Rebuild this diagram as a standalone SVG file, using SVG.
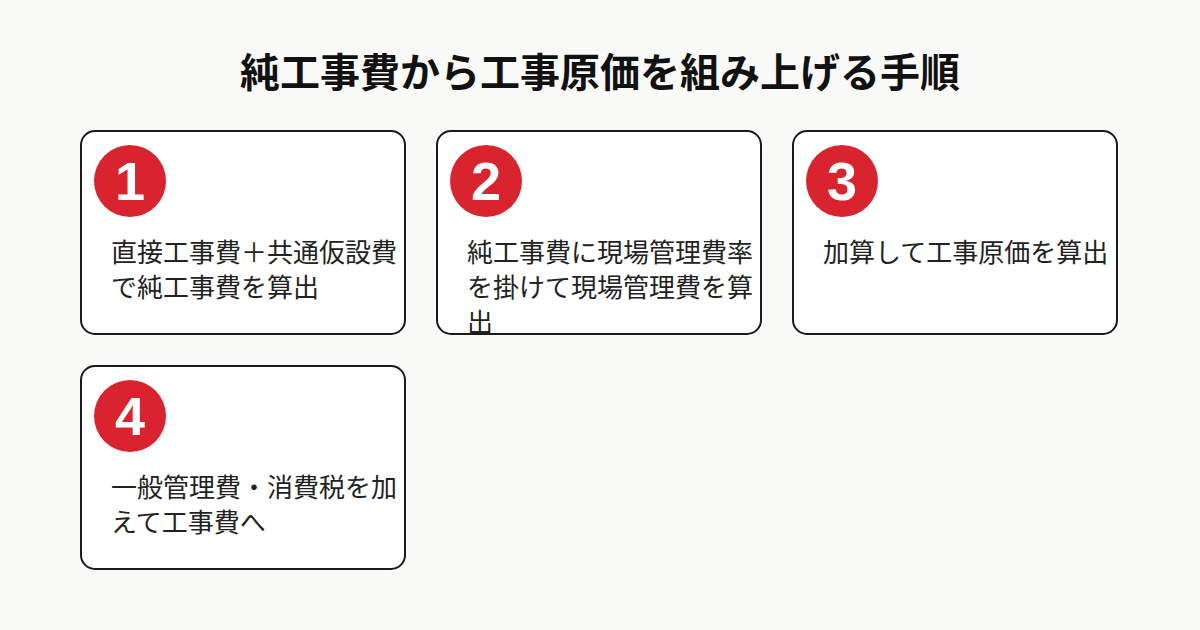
<svg xmlns="http://www.w3.org/2000/svg" width="1200" height="630" viewBox="0 0 1200 630">
<style>
.card{fill:#fff;stroke:#1a1a1a;stroke-width:2}
.num{fill:#d9232e}
.n{fill:#fff;font-family:"Liberation Sans",sans-serif;font-weight:bold;font-size:54px;text-anchor:middle}
.t{fill:#222;font-family:"Noto Sans CJK JP",sans-serif;font-size:26px}
.title{fill:#111;font-family:"Noto Sans CJK JP",sans-serif;font-weight:bold;font-size:40px;text-anchor:middle}
</style>
<rect width="1200" height="630" fill="#f9f9f7"/>
<text class="title" x="600" y="87">純工事費から工事原価を組み上げる手順</text>
<g id="step1"><rect class="card" x="81" y="131" width="324" height="203" rx="14"/><circle class="num" cx="130" cy="181" r="36"/><text class="n" x="130" y="200">1</text><text class="t" x="111" y="262">直接工事費＋共通仮設費</text><text class="t" x="111" y="297">で純工事費を算出</text></g>
<g id="step2"><rect class="card" x="437" y="131" width="324" height="203" rx="14"/><circle class="num" cx="486" cy="181" r="36"/><text class="n" x="486" y="200">2</text><text class="t" x="467" y="262">純工事費に現場管理費率</text><text class="t" x="467" y="297">を掛けて現場管理費を算</text><text class="t" x="467" y="332">出</text></g>
<g id="step3"><rect class="card" x="793" y="131" width="324" height="203" rx="14"/><circle class="num" cx="842" cy="181" r="36"/><text class="n" x="842" y="200">3</text><text class="t" x="823" y="262">加算して工事原価を算出</text></g>
<g id="step4"><rect class="card" x="81" y="366" width="324" height="203" rx="14"/><circle class="num" cx="130" cy="416" r="36"/><text class="n" x="130" y="435">4</text><text class="t" x="111" y="497">一般管理費・消費税を加</text><text class="t" x="111" y="532">えて工事費へ</text></g>
<g id="connectors"/>
</svg>
